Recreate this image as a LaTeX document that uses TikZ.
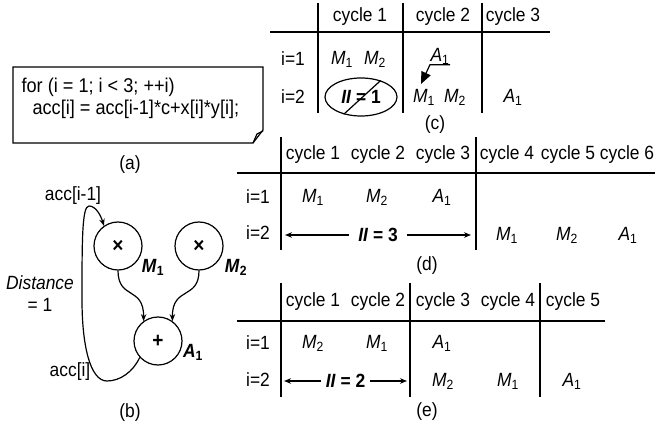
\documentclass[tikz,border=0pt]{standalone}
\usepackage{fontspec}
\setmainfont{Liberation Sans}[FakeStretch=0.91]
\usetikzlibrary{arrows.meta,shapes.geometric}
\newcommand{\opn}[2]{\textit{#1}\textsubscript{#2}}
\newcommand{\bopn}[2]{\textbf{\textit{#1}\textsubscript{#2}}}

\begin{document}
\begin{tikzpicture}[x=1bp,y=-1bp,font=\fontsize{19.2}{22}\selectfont,
  line width=1.2bp,>={Stealth[length=7bp,width=5.5bp]},
  opnode/.style={draw,circle,minimum size=48bp,inner sep=0pt,font=\fontsize{21}{21}\selectfont\bfseries},
  txt/.style={inner sep=1bp},
  rule/.style={line width=1.3bp}]
 \useasboundingbox (0,0) rectangle (655,434);
 % (a) the loop
 \draw (13,67) -- (263,67) -- (263,130) -- (253,143) -- (13,143) -- cycle;
 \draw (253,143) -- (257,134) -- (263,131);
 \node[align=left,anchor=north west,inner sep=0pt,font=\fontsize{20}{23}\selectfont]
   (code) at (21,77) {for (i = 1; i {<} 3; ++i)\\\hspace*{11bp}acc[i] = acc[i-1]*c+x[i]*y[i];};
 \node (la) at (130,165) {(a)};
 % (b) data flow graph
 \node[opnode] (m1) at (118,246) {×};
 \node[opnode] (m2) at (199,246) {×};
 \node[opnode] (a1) at (158,341) {+};
 \node[txt] (m1l) at (153,267) {\bopn{M}{1}};
 \node[txt] (m2l) at (236,267) {\bopn{M}{2}};
 \node[txt] (a1l) at (193,352) {\bopn{A}{1}};
 \node[txt] (prev) at (73,196) {acc[i-1]};
 \node[txt] (cur) at (70,372) {acc[i]};
 \node[txt,align=center] (dist) at (40,294) {\textit{Distance}\\= 1};
 \draw[->] (m1.south) .. controls (118,300) and (144,286) .. (a1.126);
 \draw[->] (m2.south) .. controls (199,300) and (172,286) .. (a1.54);
 \draw[->] (a1.222) .. controls (133,372) and (120,381) .. (107,381)
   .. controls (90,381) and (82,345) .. (82,300)
   .. controls (82,240) and (82,206) .. (89,206)
   .. controls (96,206) and (101,216) .. (m1.125);
 \node (lb) at (130,413) {(b)};
 % (c) II = 1
 \draw[rule] (270,32) -- (550,32);
 \foreach \x in {318,403,482} \draw[rule] (\x,3) -- (\x,113);
 \foreach \i/\x in {1/360,2/443,3/513} \node (c-h\i) at (\x,17) {cycle \i};
 \node (c-r1) at (293,59) {i=1};
 \node (c-r2) at (293,97) {i=2};
 \node[txt] (c-m1a) at (342,59) {\opn{M}{1}};
 \node[txt] (c-m2a) at (375,59) {\opn{M}{2}};
 \node[inner sep=0pt] (c-a1a) at (440,56) {\opn{A}{1}};
 \node[draw,ellipse,minimum width=72bp,minimum height=38bp,inner sep=0pt] (c-ii) at (361,97)
   {\textbf{\textit{II} = 1}};
 \draw (c-ii.225) -- (c-ii.40);
 \node[txt] (c-m1b) at (424,97) {\opn{M}{1}};
 \node[txt] (c-m2b) at (455,97) {\opn{M}{2}};
 \node[txt] (c-a1b) at (513,97) {\opn{A}{1}};
 \coordinate (c-tip) at (421,84);
 \draw[-{Triangle[length=12bp,width=10bp]}] (c-a1a.south east) -- (c-a1a.south west) -- (c-tip);
 \node (lc) at (435,125) {(c)};
 % (d) II = 3
 \draw[rule] (237,173) -- (655,173);
 \foreach \x in {281,476} \draw[rule] (\x,137) -- (\x,250);
 \foreach \i/\x in {1/313,2/378,3/443,4/507,5/568,6/627} \node (d-h\i) at (\x,155) {cycle \i};
 \node (d-r1) at (258,197) {i=1};
 \node (d-r2) at (258,233) {i=2};
 \node[txt] (d-m1a) at (313,197) {\opn{M}{1}};
 \node[txt] (d-m2a) at (377,197) {\opn{M}{2}};
 \node[txt] (d-a1a) at (442,197) {\opn{A}{1}};
 \coordinate (d-l) at (285,235);
 \coordinate (d-r) at (471,235);
 \draw[<->] (d-l) -- node[fill=white,inner xsep=9bp] (d-ii) {\textbf{\textit{II} = 3}} (d-r);
 \node[txt] (d-m1b) at (507,235) {\opn{M}{1}};
 \node[txt] (d-m2b) at (567,235) {\opn{M}{2}};
 \node[txt] (d-a1b) at (628,235) {\opn{A}{1}};
 \node (ld) at (427,266) {(d)};
 % (e) II = 2
 \draw[rule] (237,321) -- (605,321);
 \foreach \x in {281,410,540} \draw[rule] (\x,283) -- (\x,397);
 \foreach \i in {1,...,5} \node (e-h\i) at ({313+65*(\i-1)},302) {cycle \i};
 \node (e-r1) at (258,343) {i=1};
 \node (e-r2) at (258,380) {i=2};
 \node[txt] (e-m2a) at (313,343) {\opn{M}{2}};
 \node[txt] (e-m1a) at (377,343) {\opn{M}{1}};
 \node[txt] (e-a1a) at (442,343) {\opn{A}{1}};
 \coordinate (e-l) at (284,381);
 \coordinate (e-r) at (407,381);
 \draw[<->] (e-l) -- node[fill=white,inner xsep=5bp] (e-ii) {\textbf{\textit{II} = 2}} (e-r);
 \node[txt] (e-m2b) at (443,381) {\opn{M}{2}};
 \node[txt] (e-m1b) at (508,381) {\opn{M}{1}};
 \node[txt] (e-a1b) at (572,381) {\opn{A}{1}};
 \node (le) at (427,412) {(e)};
\end{tikzpicture}
\end{document}
